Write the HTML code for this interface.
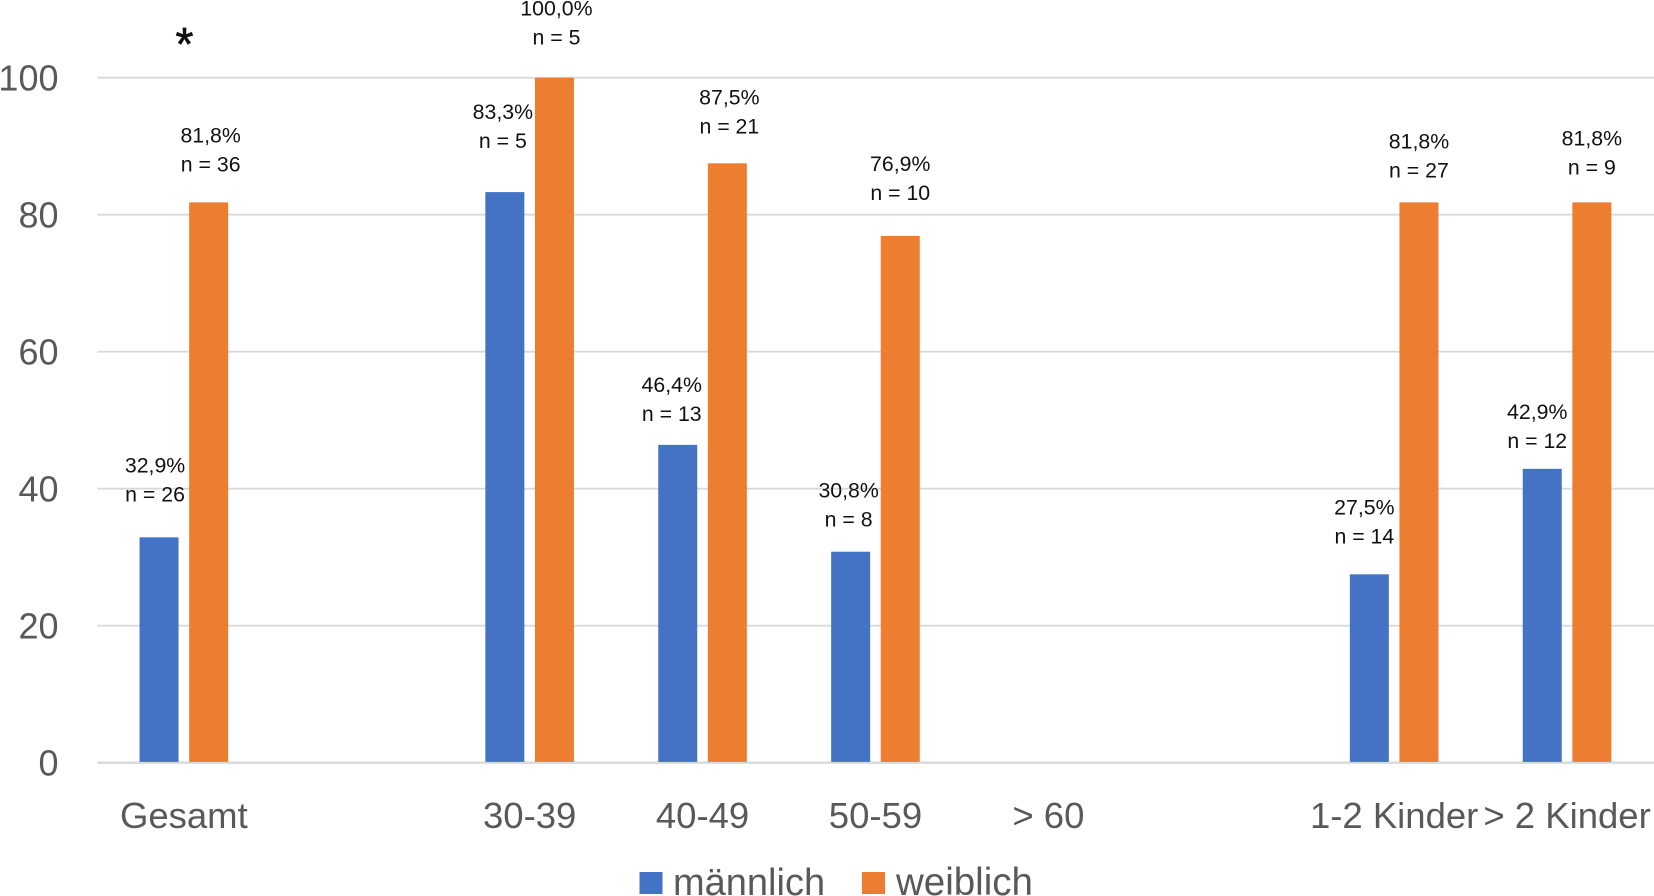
<!DOCTYPE html>
<html lang="de">
<head>
<meta charset="utf-8">
<title>Balkendiagramm männlich / weiblich</title>
<style>
  html, body { margin: 0; padding: 0; background: #ffffff; }
  body { width: 1654px; height: 896px; overflow: hidden; }
  svg { display: block; font-family: "Liberation Sans", sans-serif; }
</style>
</head>
<body>
<svg id="chart" xmlns="http://www.w3.org/2000/svg" width="1654" height="896" viewBox="0 0 1654 896">
  <g id="grid"></g>
  <g id="yticks"></g>
  <g id="bars"></g>
  <g id="xticks"></g>
  <g id="labels"></g>
  <text x="184.5" y="60" font-size="46" text-anchor="middle" fill="#111111" stroke="#111111" stroke-width="0.7">*</text>
  <g>
    <g>
      <rect x="639.5" y="872" width="23" height="22" fill="#4472c4"></rect>
      <text x="673" y="895" font-size="38" fill="#595959">männlich</text>
    </g>
    <g>
      <rect x="862" y="872" width="23" height="22" fill="#ed7d31"></rect>
      <text x="896" y="895" font-size="38.5" fill="#595959">weiblich</text>
    </g>
  </g>
</svg>
<script>
// Chart data
const categories = ["Gesamt", "", "30-39", "40-49", "50-59", "> 60", "", "1-2 Kinder", "> 2 Kinder"];
const maleValues = [32.9, null, 83.3, 46.4, 30.8, null, null, 27.5, 42.9];
const femaleValues = [81.8, null, 100, 87.5, 76.9, null, null, 81.8, 81.8];
const maleCounts = [26, null, 5, 13, 8, null, null, 14, 12];
const femaleCounts = [36, null, 5, 21, 10, null, null, 27, 9];
const yTicks = [0, 20, 40, 60, 80, 100];

// Layout (not data)
const NS = "http://www.w3.org/2000/svg";
const plot = { left: 97.4, right: 1654, zeroY: 762.7, unit: 6.85, band: 172.9 };
const barWidth = 39;
const barOffset = 24.8;
// Hand-placed label nudges from the source figure, relative to each bar
const labelShift = {
  male:   { dx: [-4, 0, -2, -6, -2, 0, 0, -5, -5], gap: [43, 0, 51, 31, 32, 0, 0, 38, 28] },
  female: { dx: [2, 0, 2, 2, 0, 0, 0, 0, 0], gap: [38, 0, 40, 37, 43, 0, 0, 32, 35] }
};

function yScale(v) { return plot.zeroY - v * plot.unit; }
function xBand(i) { return plot.left + plot.band * (i + 0.5); }
function formatPct(v) { return v.toFixed(1).replace(".", ",") + "%"; }

function make(tag, attrs, parent, content) {
  const el = document.createElementNS(NS, tag);
  for (const k in attrs) el.setAttribute(k, attrs[k]);
  if (content !== undefined) el.textContent = content;
  parent.appendChild(el);
  return el;
}

const gridG = document.getElementById("grid");
const yG = document.getElementById("yticks");
const barsG = document.getElementById("bars");
const xG = document.getElementById("xticks");
const labelsG = document.getElementById("labels");

yTicks.forEach(function (t) {
  const line = make("line", { x1: plot.left, x2: plot.right, y1: yScale(t), y2: yScale(t), stroke: "#d9d9d9", "stroke-width": t === 0 ? 2.4 : 1.8 }, gridG);
  
  
  const label = make("text", { x: 58.5, y: yScale(t) + 13, "text-anchor": "end", "font-size": 36, fill: "#595959" }, yG, String(t));
  
  
});

categories.forEach(function (c, i) {
  if (!c) return;
  const label = make("text", { x: xBand(i), y: 828, "text-anchor": "middle", "font-size": 36.5, fill: "#595959" }, xG, c);
  
  
});

function drawSeries(values, counts, side, color, shift, seriesName) {
  values.forEach(function (v, i) {
    if (v === null) return;
    const cx = xBand(i) + side * barOffset;
    const top = yScale(v);
    const bar = make("rect", { x: cx - barWidth / 2, y: top, width: barWidth, height: plot.zeroY - 0.8 - top, fill: color }, barsG);
    
    
    const lx = cx + shift.dx[i];
    const secondY = top - shift.gap[i] + 7;
    const pct = make("text", { x: lx, y: secondY - 29, "text-anchor": "middle", "font-size": 21.3, fill: "#111111" }, labelsG, formatPct(v));
    
    
    const n = make("text", { x: lx, y: secondY, "text-anchor": "middle", "font-size": 21.3, fill: "#111111" }, labelsG, "n = " + counts[i]);
    
    
  });
}

drawSeries(maleValues, maleCounts, -1, "#4472c4", labelShift.male, "maennlich");
drawSeries(femaleValues, femaleCounts, 1, "#ed7d31", labelShift.female, "weiblich");
</script>
</body>
</html>
